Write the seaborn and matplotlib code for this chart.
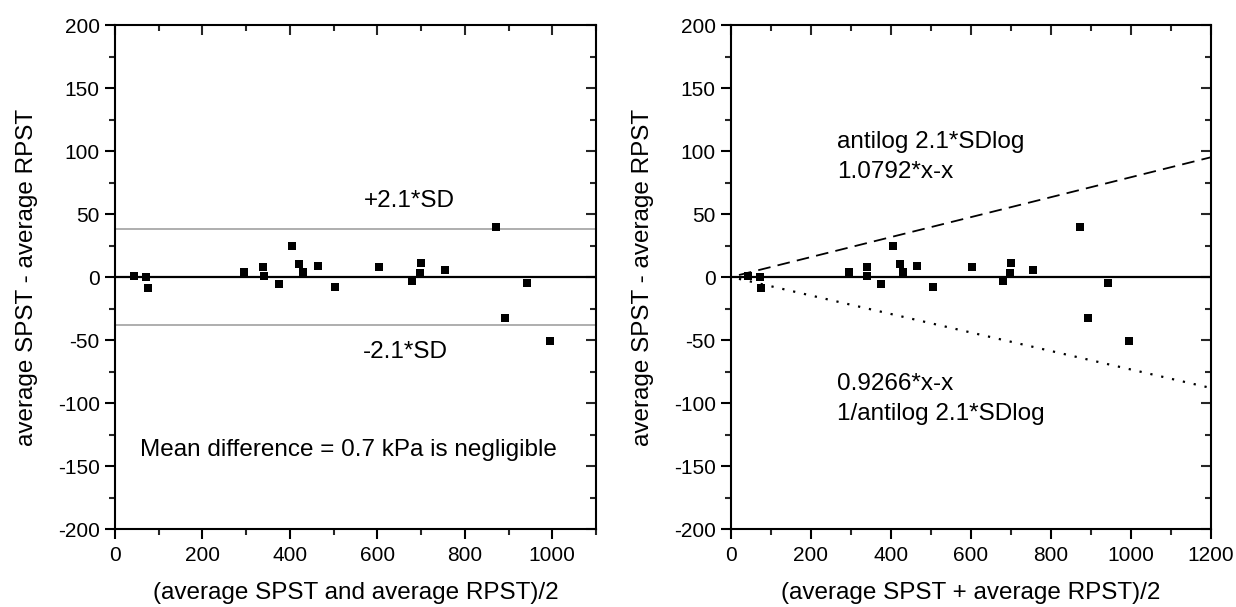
import numpy as np
import pandas as pd
import matplotlib
matplotlib.use("Agg")
import matplotlib.pyplot as plt
from matplotlib.ticker import MultipleLocator
import seaborn as sns

sns.set_theme(style="ticks")
plt.rcParams["font.family"] = ["Liberation Sans", "DejaVu Sans"]
plt.rcParams["axes.unicode_minus"] = False
plt.rcParams["text.color"] = "black"
plt.rcParams["axes.labelcolor"] = "black"

# data
avg_x = [43, 72, 76, 294, 339, 341, 375, 404, 422, 429, 464, 504,
         603, 680, 697, 699, 754, 872, 893, 942, 995]
diff_y = [0.6, -0.3, -9, 3.7, 8, 0.6, -5.5, 24.5, 10, 4, 8.6, -8.3,
          8, -3, 3, 11, 5.8, 40, -32.5, -5, -51]
sd_limit = 37.9
upper_factor = 1.0792
lower_factor = 0.9266
line_x = [20, 1200]

df = pd.DataFrame({"x": avg_x, "y": diff_y})

fig = plt.figure(figsize=(12.36, 6.07), dpi=100)
ax1 = fig.add_axes([0.0930, 0.1285, 0.3892, 0.8303])
ax2 = fig.add_axes([0.5914, 0.1285, 0.3883, 0.8303])

TXT = 17.5


def style_axis(ax, xmax):
    ax.set_xlim(0, xmax)
    ax.set_ylim(-200, 200)
    ax.xaxis.set_major_locator(MultipleLocator(200))
    ax.xaxis.set_minor_locator(MultipleLocator(100))
    ax.yaxis.set_major_locator(MultipleLocator(50))
    ax.yaxis.set_minor_locator(MultipleLocator(25))
    for sp in ax.spines.values():
        sp.set_visible(True)
        sp.set_linewidth(1.5)
        sp.set_color("black")
    ax.tick_params(which="major", direction="out", length=7.5, width=1.5,
                   labelsize=15, colors="black")
    ax.tick_params(axis="x", which="major", pad=5)
    ax.tick_params(axis="y", which="major", pad=3.5)
    ax.tick_params(which="minor", direction="out", length=4, width=1.5)
    # inward ticks on top and right
    top = ax.secondary_xaxis("top")
    top.xaxis.set_major_locator(MultipleLocator(200))
    top.xaxis.set_minor_locator(MultipleLocator(100))
    top.tick_params(which="major", direction="in", length=7.5, width=1.5, labeltop=False)
    top.tick_params(which="minor", direction="in", length=4.5, width=1.5)
    right = ax.secondary_yaxis("right")
    right.yaxis.set_major_locator(MultipleLocator(50))
    right.yaxis.set_minor_locator(MultipleLocator(25))
    right.tick_params(which="major", direction="in", length=7.5, width=1.5, labelright=False)
    right.tick_params(which="minor", direction="in", length=4.5, width=1.5)
    ax.axhline(0, color="black", lw=1.6, zorder=1)
    sns.scatterplot(data=df, x="x", y="y", marker="s", s=30, color="black",
                    edgecolor="black", linewidth=0, ax=ax, zorder=3)
    ax.set_ylabel("average SPST - average RPST", fontsize=TXT, labelpad=14,
                  color="black")


# left chart
style_axis(ax1, 1100)
ax1.axhline(sd_limit, color="#999999", lw=1.1)
ax1.axhline(-sd_limit, color="#999999", lw=1.1)
ax1.text(778, 55.3, "+2.1*SD", fontsize=TXT, ha="right", va="baseline")
ax1.text(762, -64.5, "-2.1*SD", fontsize=TXT, ha="right", va="baseline")
ax1.text(533, -142, "Mean difference = 0.7 kPa is negligible", fontsize=TXT,
         ha="center", va="baseline")
ax1.set_xlabel("(average SPST and average RPST)/2", fontsize=TXT, labelpad=12,
               color="black")

# right chart
style_axis(ax2, 1200)
lx = np.array(line_x, dtype=float)
ax2.plot(lx, (upper_factor - 1) * lx, color="black", lw=1.3, ls=(0, (7, 4)))
ax2.plot(lx, (lower_factor - 1) * lx, color="black", lw=1.6, ls=(0, (1, 4)))
ax2.text(265, 102.6, "antilog 2.1*SDlog", fontsize=TXT, ha="left", va="baseline")
ax2.text(265, 78.3, "1.0792*x-x", fontsize=TXT, ha="left", va="baseline")
ax2.text(265, -89.7, "0.9266*x-x", fontsize=TXT, ha="left", va="baseline")
ax2.text(265, -113.5, "1/antilog 2.1*SDlog", fontsize=TXT, ha="left", va="baseline")
ax2.set_xlabel("(average SPST + average RPST)/2", fontsize=TXT, labelpad=12,
               color="black")

plt.savefig("out.png", dpi=100)
